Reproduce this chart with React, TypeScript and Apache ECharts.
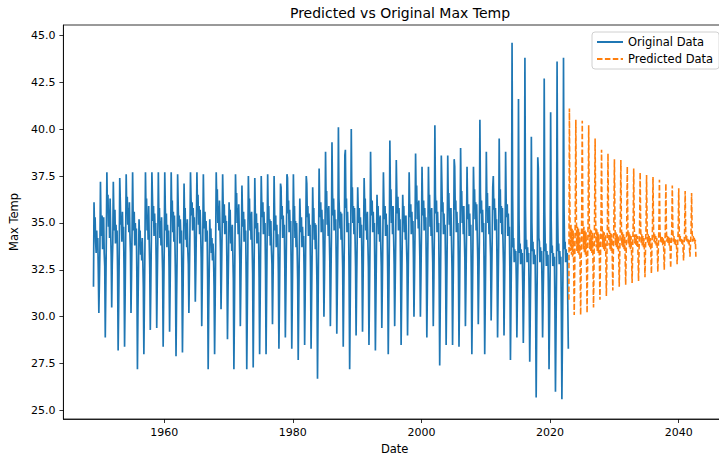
import { useEffect, useRef } from "react";
import * as echarts from "echarts";

// Monthly max temperature, one row per year (Jan..Dec), starting Jan 1949
const originalStartYear = 1949;
const originalMaxTemp: number[][] = [
  [31.6, 36.1, 34.5, 35.3, 34.0, 33.4, 34.6, 33.6, 34.2, 32.4, 30.2, 31.8], // 1949
  [33.6, 37.2, 35.0, 34.3, 35.4, 33.6, 34.5, 35.3, 33.4, 32.7, 28.9, 31.5],
  [34.3, 37.7, 35.6, 36.5, 34.8, 35.7, 34.2, 36.3, 34.6, 33.3, 30.5, 32.8],
  [33.9, 37.2, 35.4, 34.6, 35.7, 33.9, 34.9, 34.1, 34.6, 32.4, 28.2, 30.6],
  [33.2, 37.4, 36.2, 34.9, 35.3, 34.0, 35.6, 34.3, 34.8, 32.6, 28.4, 31.0],
  [34.0, 37.6, 35.7, 36.4, 34.9, 35.8, 34.5, 36.1, 34.4, 33.4, 30.2, 32.2],
  [34.6, 37.7, 35.4, 34.6, 35.6, 33.8, 35.0, 34.2, 34.7, 32.0, 27.2, 30.4],
  [32.7, 35.2, 34.1, 34.6, 33.3, 34.0, 33.0, 34.2, 33.1, 31.6, 28.0, 30.9],
  [33.7, 37.7, 35.6, 36.3, 34.6, 35.4, 34.1, 35.9, 34.0, 32.6, 29.3, 31.7],
  [34.2, 37.7, 36.4, 35.1, 35.9, 34.3, 35.5, 34.6, 35.0, 32.9, 29.4, 31.9],
  [34.0, 37.7, 35.3, 35.8, 34.2, 35.1, 33.8, 35.3, 33.7, 32.4, 28.4, 31.2], // 1959
  [33.6, 37.7, 35.8, 34.6, 35.5, 33.7, 34.9, 34.2, 34.6, 32.6, 29.2, 31.6],
  [34.1, 37.7, 35.7, 36.2, 34.5, 35.6, 34.0, 35.4, 33.9, 32.0, 27.9, 30.8],
  [33.2, 37.6, 36.0, 34.8, 35.4, 33.9, 35.2, 34.3, 34.6, 32.2, 28.1, 31.0],
  [33.6, 37.1, 35.2, 35.8, 34.1, 35.0, 33.7, 35.2, 33.6, 32.8, 30.2, 32.3],
  [34.5, 37.7, 36.3, 35.4, 36.1, 34.6, 35.8, 34.9, 35.3, 33.4, 30.8, 32.6],
  [34.8, 37.7, 35.9, 36.5, 34.9, 35.9, 34.4, 35.7, 34.5, 33.1, 29.5, 31.9],
  [34.2, 37.6, 35.5, 34.7, 35.6, 34.0, 35.1, 34.3, 34.6, 32.0, 27.2, 30.5],
  [32.6, 35.2, 34.0, 34.7, 33.4, 34.2, 33.0, 33.9, 33.2, 31.6, 28.0, 30.7],
  [33.9, 37.7, 36.2, 36.8, 35.0, 35.9, 34.6, 36.2, 34.8, 33.5, 30.4, 32.4],
  [34.6, 37.6, 35.9, 35.0, 36.0, 34.4, 35.4, 34.8, 35.1, 32.7, 28.8, 31.3], // 1969
  [33.3, 36.1, 35.0, 35.7, 33.9, 34.8, 33.5, 34.9, 33.4, 31.9, 27.2, 30.4],
  [33.9, 37.6, 36.1, 36.6, 35.0, 35.8, 34.4, 36.0, 34.5, 33.0, 29.5, 31.8],
  [34.0, 37.0, 35.5, 34.8, 35.6, 34.0, 35.2, 34.2, 34.6, 31.8, 27.2, 30.3],
  [33.5, 37.5, 35.8, 36.3, 34.6, 35.5, 34.1, 35.6, 33.9, 32.3, 27.3, 30.6],
  [33.7, 37.4, 35.4, 34.7, 35.5, 33.9, 35.0, 34.1, 34.5, 32.1, 28.0, 30.9],
  [34.1, 37.5, 36.0, 35.3, 36.1, 34.4, 35.6, 34.6, 35.0, 32.5, 28.0, 31.1],
  [34.3, 37.6, 35.4, 35.9, 34.3, 35.2, 33.8, 35.1, 33.6, 32.8, 29.6, 31.9],
  [34.0, 37.5, 35.5, 34.6, 35.4, 33.7, 34.9, 33.9, 34.4, 32.3, 28.3, 31.0],
  [33.7, 37.1, 36.9, 35.2, 35.9, 34.2, 35.4, 34.4, 34.9, 32.6, 28.9, 31.4],
  [34.1, 37.6, 37.4, 35.5, 36.2, 34.5, 35.7, 34.6, 35.1, 32.3, 28.3, 31.0], // 1979
  [33.9, 37.6, 35.5, 35.9, 34.2, 35.1, 33.7, 35.0, 33.6, 32.0, 27.7, 30.7],
  [33.4, 36.3, 35.2, 34.5, 35.3, 33.7, 34.8, 34.0, 34.3, 32.4, 28.5, 31.2],
  [34.0, 37.5, 37.1, 35.3, 35.9, 34.3, 35.5, 34.4, 34.9, 32.4, 28.3, 31.0],
  [33.5, 36.9, 35.3, 35.8, 34.1, 35.0, 33.6, 34.9, 33.5, 31.7, 26.7, 30.2],
  [33.9, 37.9, 36.0, 35.3, 36.1, 34.5, 35.7, 34.8, 35.2, 33.2, 30.0, 32.1],
  [34.6, 38.8, 36.2, 36.7, 34.9, 35.8, 34.3, 35.9, 34.4, 32.9, 29.5, 31.9],
  [34.3, 39.3, 36.6, 35.4, 36.3, 34.6, 35.7, 34.7, 35.2, 32.8, 29.1, 31.6],
  [34.1, 40.1, 36.3, 35.5, 34.7, 35.6, 34.1, 35.5, 34.0, 32.6, 28.4, 31.2],
  [33.9, 38.6, 38.9, 35.8, 36.3, 34.5, 35.6, 34.6, 35.0, 31.9, 27.2, 30.6],
  [34.0, 40.0, 36.4, 36.9, 35.0, 35.9, 34.4, 35.8, 34.3, 32.7, 29.0, 31.7], // 1989
  [34.1, 36.9, 35.6, 35.0, 35.8, 34.2, 35.3, 34.5, 34.9, 32.8, 29.2, 31.8],
  [34.3, 37.4, 35.9, 36.3, 34.6, 35.5, 34.1, 35.6, 34.0, 32.6, 28.5, 31.3],
  [33.9, 38.8, 36.3, 35.4, 36.2, 34.5, 35.6, 34.6, 35.0, 32.4, 28.2, 31.0],
  [33.7, 36.5, 35.4, 35.9, 34.4, 35.3, 34.0, 35.4, 33.9, 32.7, 29.4, 31.8],
  [34.4, 37.7, 35.9, 35.2, 35.9, 34.3, 35.5, 34.4, 34.9, 32.3, 28.0, 30.9],
  [33.8, 39.4, 36.5, 36.8, 35.0, 35.9, 34.4, 35.9, 34.3, 32.8, 29.5, 31.9],
  [34.2, 38.35, 36.5, 35.5, 36.4, 34.6, 35.8, 34.8, 35.2, 32.5, 28.5, 31.2],
  [33.9, 36.5, 35.4, 35.9, 34.5, 35.4, 34.1, 35.4, 33.9, 32.8, 29.0, 31.6],
  [34.3, 37.7, 36.0, 35.3, 36.0, 34.4, 35.6, 34.6, 35.1, 33.1, 30.0, 32.2],
  [34.6, 38.7, 36.4, 37.0, 35.2, 36.1, 34.7, 36.2, 34.6, 33.1, 30.0, 32.1], // 1999
  [34.5, 38.0, 36.2, 35.4, 36.2, 34.6, 35.8, 34.8, 35.3, 32.7, 28.9, 31.5],
  [34.1, 38.0, 36.0, 36.5, 34.8, 35.7, 34.3, 35.8, 34.2, 32.9, 29.5, 31.7],
  [34.4, 40.2, 36.5, 35.5, 36.2, 34.5, 35.6, 34.6, 35.0, 32.0, 27.4, 30.5],
  [33.6, 38.6, 37.2, 35.6, 36.1, 34.4, 35.5, 34.5, 34.9, 32.6, 28.5, 31.2],
  [34.0, 38.6, 36.1, 36.6, 34.9, 35.8, 34.3, 35.8, 34.1, 32.5, 28.5, 31.3],
  [33.9, 38.4, 38.0, 35.7, 36.2, 34.5, 35.6, 34.6, 35.0, 32.4, 28.4, 31.0],
  [34.2, 39.0, 36.4, 36.7, 35.0, 35.9, 34.4, 35.9, 34.3, 33.0, 29.5, 31.8],
  [34.3, 38.0, 35.9, 35.2, 36.0, 34.3, 35.5, 34.4, 34.9, 32.2, 28.0, 30.9],
  [33.8, 38.0, 36.4, 36.8, 35.2, 36.1, 34.6, 36.0, 34.5, 33.1, 29.6, 31.9],
  [34.0, 40.5, 36.6, 35.5, 36.2, 34.5, 35.7, 34.6, 35.0, 32.1, 28.0, 30.8], // 2009
  [33.7, 38.8, 36.2, 36.6, 35.0, 35.8, 34.4, 35.9, 34.2, 33.2, 29.8, 32.0],
  [34.3, 36.9, 37.5, 35.7, 36.3, 34.6, 35.8, 34.8, 35.2, 32.7, 28.9, 31.5],
  [33.9, 39.5, 36.4, 36.8, 35.0, 35.9, 34.4, 35.8, 34.2, 32.8, 29.0, 31.6],
  [34.1, 38.8, 36.1, 35.3, 36.0, 34.3, 35.5, 34.5, 34.8, 32.3, 27.7, 30.7],
  [33.6, 44.6, 36.5, 33.7, 34.2, 32.9, 33.6, 33.1, 33.5, 31.9, 28.9, 31.2],
  [33.0, 41.6, 35.2, 33.4, 33.9, 32.8, 33.6, 32.9, 33.4, 31.6, 28.6, 30.8],
  [32.9, 43.8, 35.9, 33.6, 34.1, 32.9, 33.7, 33.0, 33.4, 31.0, 27.6, 30.2],
  [32.6, 39.6, 35.0, 33.5, 34.0, 32.8, 33.6, 32.9, 33.3, 30.5, 25.7, 29.5],
  [32.4, 38.5, 37.9, 34.2, 34.0, 32.9, 33.7, 33.0, 33.5, 31.7, 28.9, 31.0],
  [32.8, 42.7, 35.6, 33.5, 33.9, 32.7, 33.5, 32.8, 33.3, 31.0, 27.2, 29.8], // 2019
  [32.5, 40.9, 35.1, 33.4, 33.8, 32.7, 33.4, 32.8, 33.2, 30.4, 26.0, 29.2],
  [32.3, 43.6, 35.7, 33.5, 33.9, 32.8, 33.5, 32.9, 33.2, 30.2, 25.6, 29.0],
  [32.4, 43.8, 35.8, 33.6, 34.0, 32.9, 33.6, 33.0, 33.4, 30.7, 28.3], // 2022 (to Nov)
];

// Forecast, monthly: first value Dec 2022, then one row per year (Jan..Dec)
const predictedStartYear = 2022;
const predictedStartMonth = 11; // December
const predictedMaxTemp: number[][] = [
  [30.9], // Dec 2022
  [41.1, 35.4, 33.5, 34.9, 33.3, 34.7, 33.2, 34.6, 32.7, 30.1, 32.8, 35.6], // 2023
  [40.5, 35.3, 33.5, 34.8, 33.4, 34.7, 33.3, 34.5, 32.8, 30.1, 32.9, 35.5],
  [40.45, 35.3, 33.6, 34.8, 33.4, 34.6, 33.3, 34.5, 32.9, 30.2, 33.0, 35.4],
  [40.2, 35.2, 33.6, 34.7, 33.5, 34.6, 33.4, 34.5, 33.0, 30.5, 33.1, 35.3],
  [39.5, 35.1, 33.7, 34.7, 33.5, 34.5, 33.4, 34.4, 33.1, 30.9, 33.2, 35.2],
  [38.9, 35.0, 33.7, 34.6, 33.6, 34.5, 33.5, 34.4, 33.2, 31.1, 33.3, 35.1],
  [38.7, 35.0, 33.8, 34.6, 33.6, 34.5, 33.5, 34.4, 33.2, 31.4, 33.4, 35.0],
  [38.4, 34.9, 33.8, 34.5, 33.7, 34.4, 33.6, 34.3, 33.3, 31.6, 33.4, 35.0],
  [38.35, 34.9, 33.8, 34.5, 33.7, 34.4, 33.6, 34.3, 33.3, 31.7, 33.5, 34.9],
  [38.0, 34.8, 33.9, 34.5, 33.7, 34.4, 33.6, 34.3, 33.4, 31.8, 33.5, 34.9], // 2032
  [37.9, 34.8, 33.9, 34.4, 33.8, 34.4, 33.7, 34.3, 33.4, 31.9, 33.6, 34.8],
  [37.7, 34.7, 33.9, 34.4, 33.8, 34.3, 33.7, 34.2, 33.5, 32.1, 33.6, 34.8],
  [37.55, 34.7, 33.9, 34.4, 33.8, 34.3, 33.7, 34.2, 33.5, 32.3, 33.7, 34.7],
  [37.45, 34.7, 34.0, 34.4, 33.9, 34.3, 33.8, 34.2, 33.6, 32.4, 33.7, 34.7],
  [37.3, 34.6, 34.0, 34.3, 33.9, 34.3, 33.8, 34.2, 33.6, 32.5, 33.7, 34.7],
  [37.1, 34.6, 34.0, 34.3, 33.9, 34.3, 33.8, 34.2, 33.6, 32.6, 33.8, 34.6],
  [37.0, 34.6, 34.0, 34.3, 33.9, 34.2, 33.8, 34.1, 33.7, 32.8, 33.8, 34.6],
  [36.85, 34.5, 34.0, 34.3, 34.0, 34.2, 33.9, 34.1, 33.7, 33.0, 33.8, 34.6],
  [36.7, 34.5, 34.0, 34.3, 34.0, 34.2, 33.9, 34.1, 33.7, 33.2, 33.9, 34.5],
  [36.6, 34.5, 34.0, 34.3, 34.0, 34.2, 33.9, 34.1, 33.2], // 2042 (to Sep)
];

const xTickValues = [1960, 1980, 2000, 2020, 2040];
const yTickValues = [25, 27.5, 30, 32.5, 35, 37.5, 40, 42.5, 45];

const seriesNames = ["Original Data", "Predicted Data"];

function toPoints(rows: number[][], startYear: number, startMonth: number): [number, number][] {
  const pts: [number, number][] = [];
  let idx = startYear * 12 + startMonth;
  rows.forEach((row) => {
    row.forEach((v) => {
      pts.push([idx / 12, v]);
      idx += 1;
    });
  });
  return pts;
}

const FONT = "DejaVu Sans";

export default function App() {
  const ref = useRef<HTMLDivElement>(null);

  useEffect(() => {
    if (!ref.current) return;
    const chart = echarts.init(ref.current, undefined, { renderer: "svg" });
    const original = toPoints(originalMaxTemp, originalStartYear, 0);
    const predicted = toPoints(predictedMaxTemp, predictedStartYear, predictedStartMonth);

    chart.setOption({
      animation: false,
      backgroundColor: "#ffffff",
      textStyle: { fontFamily: FONT },
      title: {
        text: "Predicted vs Original Max Temp",
        left: 395,
        top: 1,
        textAlign: "center",
        textStyle: { fontFamily: FONT, fontSize: 14, fontWeight: "normal", color: "#000" },
      },
      grid: {
        left: 63,
        right: 1,
        top: 25,
        bottom: 38,
        show: true,
        borderColor: "#000",
        borderWidth: 0.8,
        backgroundColor: "transparent",
      },
      legend: {
        data: seriesNames,
        orient: "vertical",
        left: 592,
        top: 32,
        itemWidth: 26,
        itemHeight: 10,
        itemGap: 5,
        itemStyle: { opacity: 0, borderWidth: 0 },
        backgroundColor: "rgba(255,255,255,0.85)",
        borderColor: "#d0d0d0",
        borderWidth: 1,
        borderRadius: 3,
        padding: [4, 6, 4, 4],
        textStyle: { fontFamily: FONT, fontSize: 11.5, color: "#000" },
      },
      xAxis: {
        type: "value",
        min: 1944.32,
        max: 2047.35,
        name: "Date",
        nameLocation: "middle",
        nameGap: 24,
        nameTextStyle: { fontFamily: FONT, fontSize: 11.5, color: "#000" },
        axisLine: { show: true, lineStyle: { color: "#000", width: 0.8 } },
        axisTick: { show: true, length: 4, customValues: xTickValues, lineStyle: { color: "#000", width: 0.8 } },
        axisLabel: {
          customValues: xTickValues,
          formatter: (v: number) => String(Math.round(v)),
          fontFamily: FONT,
          fontSize: 11,
          color: "#000",
          margin: 8,
        },
        splitLine: { show: false },
      },
      yAxis: {
        type: "value",
        min: 24.55,
        max: 45.55,
        name: "Max Temp",
        nameLocation: "middle",
        nameGap: 40,
        nameTextStyle: { fontFamily: FONT, fontSize: 11.5, color: "#000" },
        axisLine: { show: true, lineStyle: { color: "#000", width: 0.8 } },
        axisTick: { show: true, length: 4, customValues: yTickValues, lineStyle: { color: "#000", width: 0.8 } },
        axisLabel: {
          customValues: yTickValues,
          formatter: (v: number) => v.toFixed(1),
          fontFamily: FONT,
          fontSize: 11,
          color: "#000",
          margin: 8,
        },
        splitLine: { show: false },
      },
      series: [
        {
          name: seriesNames[0],
          type: "line",
          data: original,
          symbol: "none",
          showSymbol: false,
          color: "#1f77b4",
          lineStyle: { color: "#1f77b4", width: 1.7 },
          silent: true,
          emphasis: { disabled: true },
        },
        {
          name: seriesNames[1],
          type: "line",
          data: predicted,
          symbol: "none",
          showSymbol: false,
          color: "#ff7f0e",
          lineStyle: { color: "#ff7f0e", width: 1.6, type: [5.5, 2.4] },
          silent: true,
          emphasis: { disabled: true },
        },
      ],
    });
    return () => chart.dispose();
  }, []);

  return (
    <div style={{ position: "absolute", left: 0, top: 0, width: 719, height: 460, overflow: "hidden" }}>
      <div ref={ref} style={{ width: 727, height: 460 }} />
    </div>
  );
}
